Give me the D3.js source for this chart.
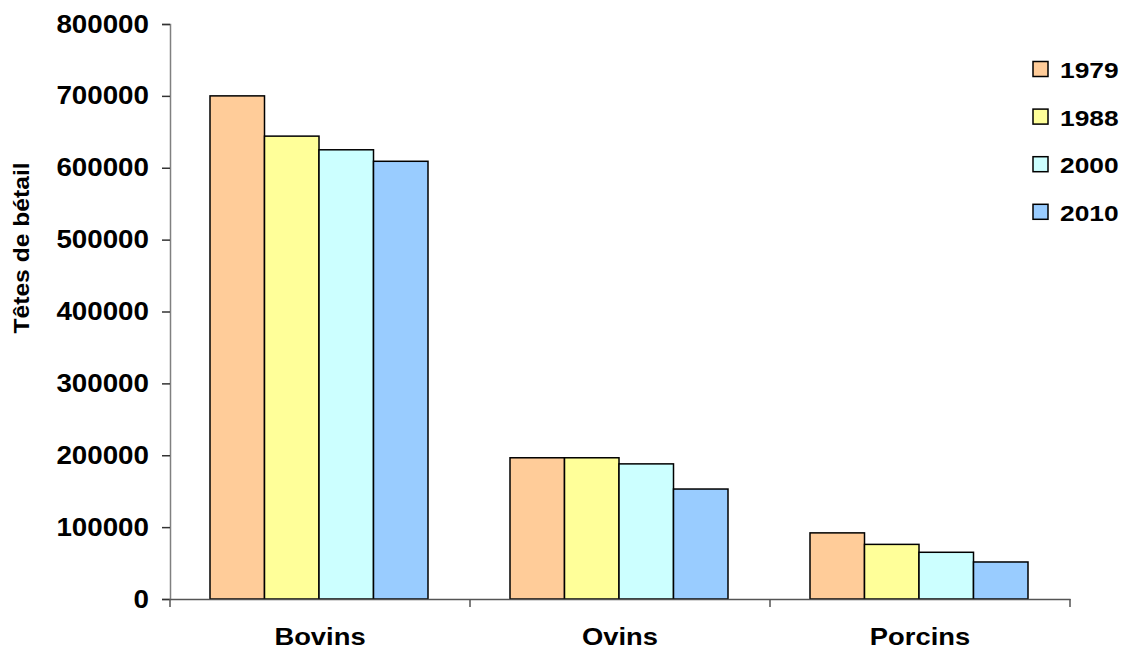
<!DOCTYPE html>
<html>
<head>
<meta charset="utf-8">
<script src="https://cdn.jsdelivr.net/npm/d3@7/dist/d3.min.js"></script>
<style>
  body { margin: 0; background: #fff; overflow: hidden; }
  text { font-family: "Liberation Sans", Arial, sans-serif; font-weight: bold; }
</style>
</head>
<body>
<script>
const categories = ["Bovins", "Ovins", "Porcins"];
const years = ["1979", "1988", "2000", "2010"];
const v1979 = [700000, 196500, 92000];
const v1988 = [644000, 196500, 76000];
const v2000 = [625000, 188000, 65000];
const v2010 = [609000, 153000, 51500];
const yTicks = [0, 100000, 200000, 300000, 400000, 500000, 600000, 700000, 800000];
const colors = ["#FFCC99", "#FFFF99", "#CCFFFF", "#99CCFF"];

const series = [v1979, v1988, v2000, v2010];
const data = categories.flatMap((c, i) =>
  years.map((yr, j) => ({cat: c, year: yr, value: series[j][i]})));

const width = 1125, height = 650;
const svg = d3.select("body").append("svg")
  .attr("width", width).attr("height", height);

// the original lettering is a bit wider than Arial, so widen it a little
function stretch(sel, k) {
  sel.each(function() {
    const w = this.getComputedTextLength();
    d3.select(this).attr("textLength", w * k).attr("lengthAdjust", "spacingAndGlyphs");
  });
}

const x = d3.scaleBand().domain(categories).range([170, 1070]);
const xInner = d3.scaleBand().domain(years).range([40, 258]);
const y = d3.scaleLinear().domain([0, 800000]).range([599, 24]);
const color = d3.scaleOrdinal().domain(years).range(colors);

// bars
svg.append("g")
  .selectAll("rect")
  .data(data)
  .join("rect")
  .attr("x", d => x(d.cat) + xInner(d.year))
  .attr("y", d => y(d.value))
  .attr("width", xInner.bandwidth())
  .attr("height", d => y(0) - y(d.value))
  .attr("fill", d => color(d.year))
  .attr("stroke", "#000")
  .attr("stroke-width", 1.5);

// y axis
const yAxis = svg.append("g")
  .attr("transform", "translate(170,0)")
  .call(d3.axisLeft(y).tickValues(yTicks).tickFormat(d3.format("d")).tickSize(8).tickPadding(13));
yAxis.select(".domain").attr("stroke", "#808080").attr("stroke-width", 1.5);
yAxis.selectAll(".tick line").attr("stroke", "#333").attr("stroke-width", 1.5);
yAxis.selectAll(".tick text")
  .attr("font-size", 25)
  .attr("font-family", "Liberation Sans, Arial, sans-serif")
  .attr("font-weight", "bold")
  .attr("fill", "#000")
  .call(stretch, 1.11);

// x axis
const xAxis = svg.append("g")
  .attr("transform", `translate(0,${y(0)})`)
  .call(d3.axisBottom(x).tickSize(0).tickFormat(""));
xAxis.select(".domain").attr("stroke", "#555").attr("stroke-width", 1.5);
xAxis.selectAll(".tick").remove();

const bounds = [x(categories[0]), ...categories.map(c => x(c) + x.bandwidth())];
svg.append("g").selectAll("line")
  .data(bounds)
  .join("line")
  .attr("x1", d => d).attr("x2", d => d)
  .attr("y1", y(0)).attr("y2", y(0) + 8)
  .attr("stroke", "#555").attr("stroke-width", 1.5);

svg.append("g").selectAll("text")
  .data(categories)
  .join("text")
  .attr("x", d => x(d) + x.bandwidth() / 2)
  .attr("y", 644.5)
  .attr("text-anchor", "middle")
  .attr("font-size", 24)
  .text(d => d)
  .call(stretch, 1.14);

// y label
svg.append("text")
  .attr("transform", "translate(29,248) rotate(-90)")
  .attr("text-anchor", "middle")
  .attr("font-size", 22)
  .text("Têtes de bétail")
  .call(stretch, 1.12);

// legend
const legend = svg.append("g").selectAll("g")
  .data(years)
  .join("g")
  .attr("transform", (d, i) => `translate(1033,${69 + i * 47.6})`);
legend.append("rect")
  .attr("x", 0).attr("y", -7.5)
  .attr("width", 15).attr("height", 15)
  .attr("fill", d => color(d))
  .attr("stroke", "#000").attr("stroke-width", 1.5);
legend.append("text")
  .attr("x", 27).attr("y", 9)
  .attr("font-size", 22.5)
  .text(d => d)
  .call(stretch, 1.17);
</script>
</body>
</html>
